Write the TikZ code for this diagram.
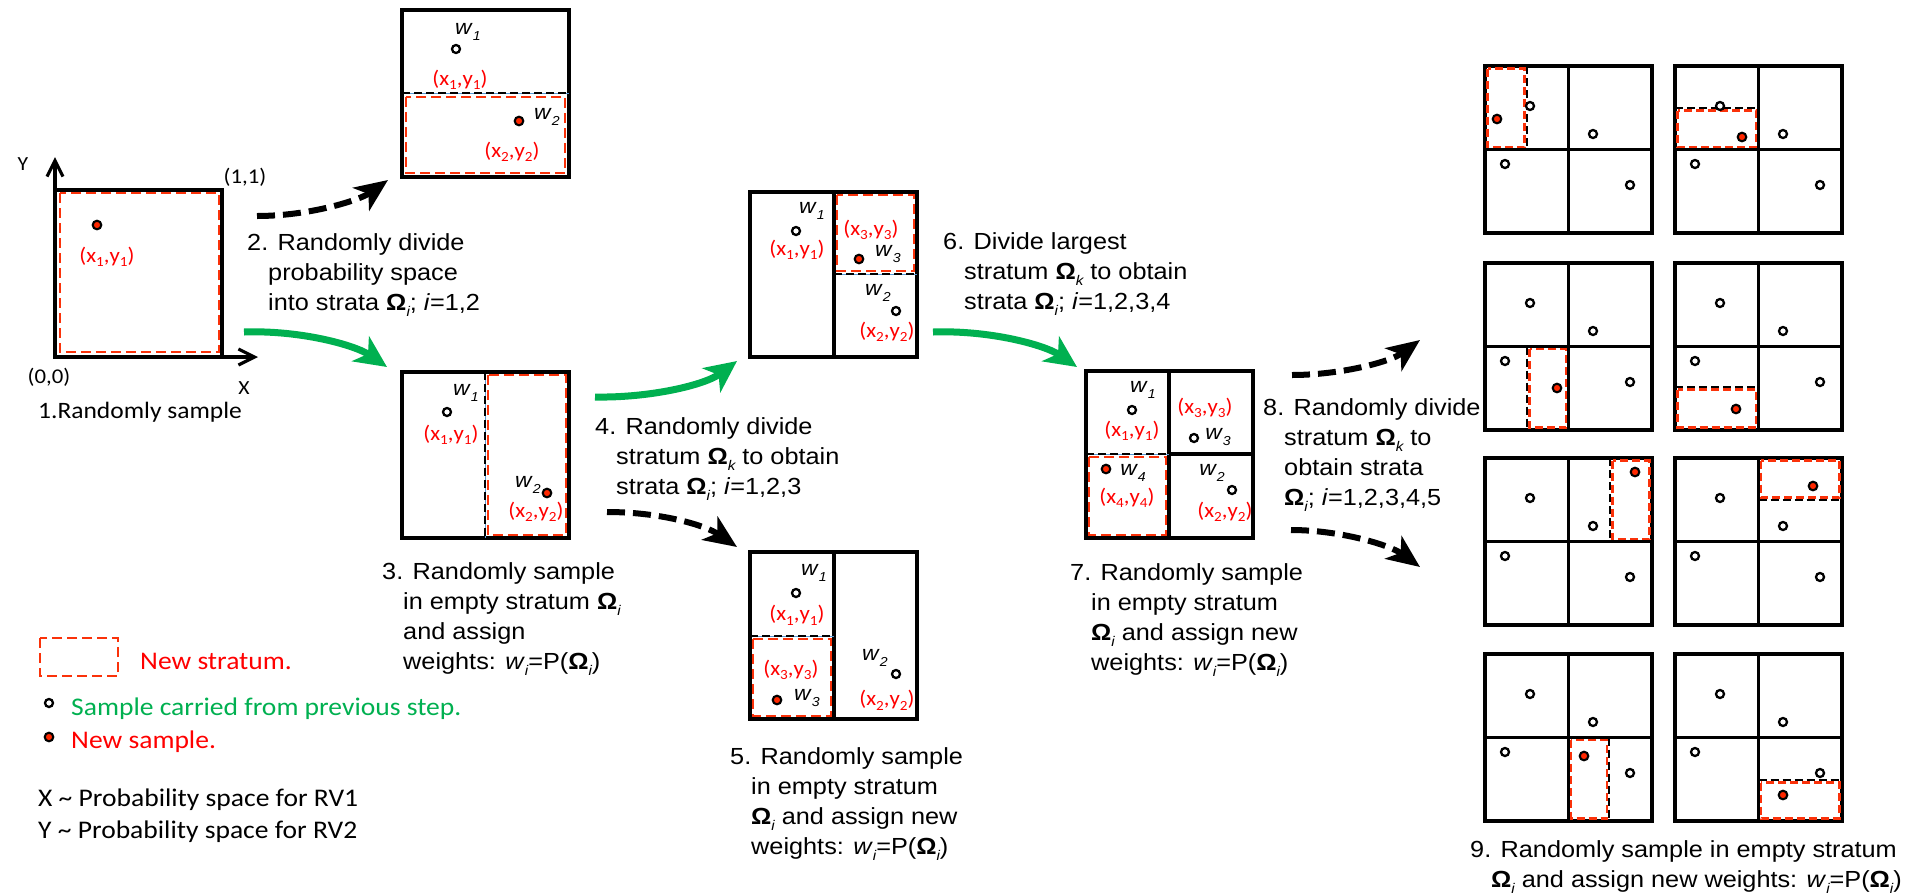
\documentclass[tikz,border=0pt]{standalone}
\usepackage{fontspec}
\setmainfont{Liberation Sans}[FakeStretch=1.085]
\newfontfamily\calib{Carlito}[FakeStretch=1.085]
\usetikzlibrary{arrows.meta}

\definecolor{stratred}{RGB}{250,50,10}
\definecolor{labred}{RGB}{255,0,0}
\definecolor{dotred}{RGB}{255,40,0}
\definecolor{flowgreen}{RGB}{0,176,80}
\definecolor{guideblue}{RGB}{91,155,213}

% bold Omega with italic subscript, weight w with subscript, coordinate pair
\newcommand\Om[1]{\textbf{Ω}\raisebox{-0.27em}{\fontsize{14}{14}\selectfont\itshape #1}}
\newcommand\wsub[1]{\textit{w}\raisebox{-0.27em}{\fontsize{14}{14}\selectfont\itshape #1}}
\newcommand\wl[1]{\textit{w}\raisebox{-0.3em}{\fontsize{13}{13}\selectfont\itshape #1}}
\newcommand\xy[1]{(x\raisebox{-0.22em}{\fontsize{14}{14}\selectfont #1},y\raisebox{-0.22em}{\fontsize{14}{14}\selectfont #1})}
\newcommand\ind{\hspace*{21pt}}

% one 2x2 stratified unit square with the four carried samples
\newcommand\gridframe{%
  \draw[boxline] (0,0) rectangle (167,167) (83.5,0) -- (83.5,167) (0,83.5) -- (167,83.5);}
\newcommand\gridsamples{%
  \foreach \p/\q in {45/40,108/68,20/98,145/119} {\draw[oldsample] (\p,\q) circle[radius=4pt];}}

\tikzset{
  boxline/.style={draw, line width=3.1pt, line join=miter},
  axis/.style={line width=3.2pt, -{Straight Barb[length=16pt,width=16pt]}},
  stratum/.style={draw=stratred, line width=2.7pt, dash pattern=on 10pt off 5pt},
  gstratum/.style={draw=stratred, line width=2.4pt, dash pattern=on 8pt off 4pt},
  divdash/.style={line width=2.7pt, dash pattern=on 8pt off 4pt},
  guideline/.style={draw=guideblue, line width=0.8pt},
  oldsample/.style={draw, line width=2.3pt, fill=white},
  newsample/.style={draw, line width=2.1pt, fill=dotred},
  steptext/.style={anchor=north west, inner sep=0pt, align=left, font=\fontsize{23.3}{30}\selectfont},
  coordlab/.style={inner sep=0pt, text=labred, font=\calib\fontsize{21}{21}\selectfont},
  wlab/.style={inner sep=0pt, font=\fontsize{21}{21}\selectfont},
  axlab/.style={inner sep=0pt, font=\calib\fontsize{21}{21}\selectfont},
  legtext/.style={inner sep=0pt, anchor=base west, font=\calib\fontsize{25.4}{30}\selectfont},
  greenarrow/.style={draw=flowgreen, line width=7pt, -{Stealth[length=32pt,width=30pt,inset=9pt]}},
  blackarrow/.style={draw, line width=6pt, dash pattern=on 18pt off 8pt, -{Stealth[length=33pt,width=28pt,inset=9pt]}},
}

\begin{document}
\begin{tikzpicture}[x=1pt,y=-1pt]
\useasboundingbox (0,0) rectangle (1907,895);

% ---------- step 1: unit square with first sample
\draw[boxline] (55,190) rectangle (222,357);
\draw[axis] (55,357) -- (55,157);
\draw[axis] (55,357) -- (258,357);
\draw[stratum] (60,193) rectangle (219,352);
\draw[newsample] (97,225) circle[radius=4.3pt];
\node[coordlab] (p1a) at (107,257) {\xy{1}};
\node[axlab, font=\calib\fontsize{20}{20}\selectfont] (ylab) at (23,164) {Y};
\node[axlab, font=\calib\fontsize{20}{20}\selectfont] (xlab) at (244,388) {X};
\node[axlab] (c11) at (245,177) {(1,1)};
\node[axlab] (c00) at (49,377) {(0,0)};
\node[inner sep=0pt, anchor=base west, font=\calib\fontsize{23.5}{28}\selectfont] (s1) at (38,418) {1.Randomly sample};

% ---------- step 2: two strata, horizontal cut
\draw[boxline] (402,10) rectangle (569,177);
\draw[guideline] (402,93) -- (569,93);
\draw[divdash] (402,93) -- (569,93);
\draw[stratum] (406,97) rectangle (565,173);
\draw[oldsample] (456,49) circle[radius=4pt];
\node[wlab] (b2w1) at (468,32) {\wl{1}};
\node[coordlab] (b2p1) at (460,80) {\xy{1}};
\draw[newsample] (519,121) circle[radius=4.3pt];
\node[wlab] (b2w2) at (547,117) {\wl{2}};
\node[coordlab] (b2p2) at (512,152) {\xy{2}};

% ---------- step 3: two strata, vertical cut
\draw[boxline] (402,372) rectangle (569,538);
\draw[guideline] (485,372) -- (485,538);
\draw[divdash] (485,372) -- (485,538);
\draw[stratum] (488,375) rectangle (566,535);
\draw[oldsample] (447,412) circle[radius=4pt];
\node[wlab] (b3w1) at (466,393) {\wl{1}};
\node[coordlab] (b3p1) at (451,435) {\xy{1}};
\draw[newsample] (547,493) circle[radius=4.3pt];
\node[wlab] (b3w2) at (528,485) {\wl{2}};
\node[coordlab] (b3p2) at (536,512) {\xy{2}};

% ---------- step 4 (upper): three strata
\draw[boxline] (750,192) rectangle (917,357) (834,192) -- (834,357);
\draw[guideline] (834,274) -- (917,274);
\draw[divdash] (834,274) -- (917,274);
\draw[stratum] (837,195) rectangle (914,271);
\draw[oldsample] (796,231) circle[radius=4pt];
\node[wlab] (b4w1) at (812,211) {\wl{1}};
\node[coordlab] (b4p1) at (797,250) {\xy{1}};
\node[coordlab] (b4p3) at (871,230) {\xy{3}};
\draw[newsample] (859,259) circle[radius=4.3pt];
\node[wlab] (b4w3) at (888,254) {\wl{3}};
\node[wlab] (b4w2) at (878,293) {\wl{2}};
\draw[oldsample] (896,311) circle[radius=4pt];
\node[coordlab] (b4p2) at (887,332) {\xy{2}};

% ---------- step 5 (lower): three strata
\draw[boxline] (750,552) rectangle (917,719) (834,552) -- (834,719);
\draw[guideline] (750,636) -- (834,636);
\draw[divdash] (750,636) -- (834,636);
\draw[stratum] (753,639) rectangle (831,716);
\node[wlab] (b5w1) at (814,573) {\wl{1}};
\draw[oldsample] (796,593) circle[radius=4pt];
\node[coordlab] (b5p1) at (797,615) {\xy{1}};
\node[coordlab] (b5p3) at (791,670) {\xy{3}};
\draw[newsample] (777,700) circle[radius=4.3pt];
\node[wlab] (b5w3) at (807,698) {\wl{3}};
\node[wlab] (b5w2) at (875,658) {\wl{2}};
\draw[oldsample] (896,674) circle[radius=4pt];
\node[coordlab] (b5p2) at (887,700) {\xy{2}};

% ---------- step 7: four strata
\draw[boxline] (1086,371) rectangle (1253,538) (1169,371) -- (1169,538) (1169,454) -- (1253,454);
\draw[guideline] (1086,454) -- (1169,454);
\draw[divdash] (1086,454) -- (1169,454);
\draw[stratum] (1089,457) rectangle (1166,535);
\node[wlab] (b7w1) at (1143,390) {\wl{1}};
\draw[oldsample] (1132,410) circle[radius=4pt];
\node[coordlab] (b7p1) at (1132,431) {\xy{1}};
\node[coordlab] (b7p3) at (1205,408) {\xy{3}};
\draw[oldsample] (1194,438) circle[radius=4pt];
\node[wlab] (b7w3) at (1218,437) {\wl{3}};
\draw[newsample] (1106,469) circle[radius=4.3pt];
\node[wlab] (b7w4) at (1133,473) {\wl{4}};
\node[coordlab] (b7p4) at (1127,498) {\xy{4}};
\node[wlab] (b7w2) at (1212,473) {\wl{2}};
\draw[oldsample] (1232,490) circle[radius=4pt];
\node[coordlab] (b7p2) at (1225,512) {\xy{2}};

% ---------- step 9: the eight possible fifth strata
\begin{scope}[shift={(1485,66)}]
  \gridframe
  \draw[divdash] (42,0) -- (42,83.5);
  \draw[gstratum] (2.5,2.5) rectangle (39.5,81);
  \gridsamples
  \draw[newsample] (12,53) circle[radius=4.3pt];
\end{scope}
\begin{scope}[shift={(1675,66)}]
  \gridframe
  \draw[divdash] (0,42) -- (83.5,42);
  \draw[gstratum] (2.5,44.5) rectangle (81,81);
  \gridsamples
  \draw[newsample] (67,71) circle[radius=4.3pt];
\end{scope}
\begin{scope}[shift={(1485,263)}]
  \gridframe
  \draw[divdash] (42,83.5) -- (42,167);
  \draw[gstratum] (44.5,86) rectangle (81,164.5);
  \gridsamples
  \draw[newsample] (72,125) circle[radius=4.3pt];
\end{scope}
\begin{scope}[shift={(1675,263)}]
  \gridframe
  \draw[divdash] (0,124) -- (83.5,124);
  \draw[gstratum] (2.5,126.5) rectangle (81,164.5);
  \gridsamples
  \draw[newsample] (61,146) circle[radius=4.3pt];
\end{scope}
\begin{scope}[shift={(1485,458)}]
  \gridframe
  \draw[divdash] (125,0) -- (125,83.5);
  \draw[gstratum] (127.5,2.5) rectangle (164.5,81);
  \gridsamples
  \draw[newsample] (150,14) circle[radius=4.3pt];
\end{scope}
\begin{scope}[shift={(1675,458)}]
  \gridframe
  \draw[divdash] (83.5,42) -- (167,42);
  \draw[gstratum] (86,2.5) rectangle (164.5,39.5);
  \gridsamples
  \draw[newsample] (138,28) circle[radius=4.3pt];
\end{scope}
\begin{scope}[shift={(1485,654)}]
  \gridframe
  \draw[divdash] (124,83.5) -- (124,167);
  \draw[gstratum] (86,86) rectangle (122,164.5);
  \gridsamples
  \draw[newsample] (99,102) circle[radius=4.3pt];
\end{scope}
\begin{scope}[shift={(1675,654)}]
  \gridframe
  \draw[divdash] (83.5,126) -- (167,126);
  \draw[gstratum] (86,128.5) rectangle (164.5,164.5);
  \gridsamples
  \draw[newsample] (108,141) circle[radius=4.3pt];
\end{scope}

% ---------- flow arrows
\coordinate (g1s) at (244,332);  \coordinate (g1e) at (387,367);
\coordinate (k1s) at (257,216);  \coordinate (k1e) at (388,180);
\coordinate (g2s) at (595,397);  \coordinate (g2e) at (737,361);
\coordinate (k2s) at (607,512);  \coordinate (k2e) at (737,547);
\coordinate (g3s) at (933,332);  \coordinate (g3e) at (1077,367);
\coordinate (k3s) at (1292,375); \coordinate (k3e) at (1420,340);
\coordinate (k4s) at (1291,530); \coordinate (k4e) at (1420,567);
\draw[greenarrow] (g1s) .. controls (300,330) and (355,345) .. (g1e);
\draw[blackarrow] (k1s) .. controls (310,216) and (360,200) .. (k1e);
\draw[greenarrow] (g2s) .. controls (650,398) and (705,385) .. (g2e);
\draw[blackarrow] (k2s) .. controls (660,512) and (705,525) .. (k2e);
\draw[greenarrow] (g3s) .. controls (990,330) and (1045,345) .. (g3e);
\draw[blackarrow] (k3s) .. controls (1340,375) and (1390,362) .. (k3e);
\draw[blackarrow] (k4s) .. controls (1340,530) and (1390,545) .. (k4e);

% ---------- step captions
\node[steptext] (s2) at (247,233) {2. Randomly divide\\\ind probability space\\\ind into strata \Om{i}; \textit{i}=1,2};
\node[steptext] (s3) at (382,562) {3. Randomly sample\\\ind in empty stratum \Om{i}\\\ind and assign\\\ind weights: \wsub{i}=P(\Om{i})};
\node[steptext] (s4) at (595,417) {4. Randomly divide\\\ind stratum \Om{k} to obtain\\\ind strata \Om{i}; \textit{i}=1,2,3};
\node[steptext] (s5) at (730,747) {5. Randomly sample\\\ind in empty stratum\\\ind \Om{i} and assign new\\\ind weights: \wsub{i}=P(\Om{i})};
\node[steptext] (s6) at (943,232) {6. Divide largest\\\ind stratum \Om{k} to obtain\\\ind strata \Om{i}; \textit{i}=1,2,3,4};
\node[steptext] (s7) at (1070,563) {7. Randomly sample\\\ind in empty stratum\\\ind \Om{i} and assign new\\\ind weights: \wsub{i}=P(\Om{i})};
\node[steptext] (s8) at (1263,398) {8. Randomly divide\\\ind stratum \Om{k} to\\\ind obtain strata\\\ind \Om{i}; \textit{i}=1,2,3,4,5};
\node[steptext] (s9) at (1470,840) {9. Randomly sample in empty stratum\\\ind \Om{i} and assign new weights: \wsub{i}=P(\Om{i})};

% ---------- legend
\draw[stratum] (40,638) rectangle (118,676);
\node[legtext, text=labred] (lg1) at (140,669) {New stratum.};
\draw[oldsample] (49,703) circle[radius=4pt];
\node[legtext, text=flowgreen] (lg2) at (71,715) {Sample carried from previous step.};
\draw[newsample] (49,737) circle[radius=4.3pt];
\node[legtext, text=labred] (lg3) at (71,748) {New sample.};
\node[legtext] (lg4) at (38,806) {X \textasciitilde{} Probability space for RV1};
\node[legtext] (lg5) at (38,838) {Y \textasciitilde{} Probability space for RV2};
\end{tikzpicture}
\end{document}
